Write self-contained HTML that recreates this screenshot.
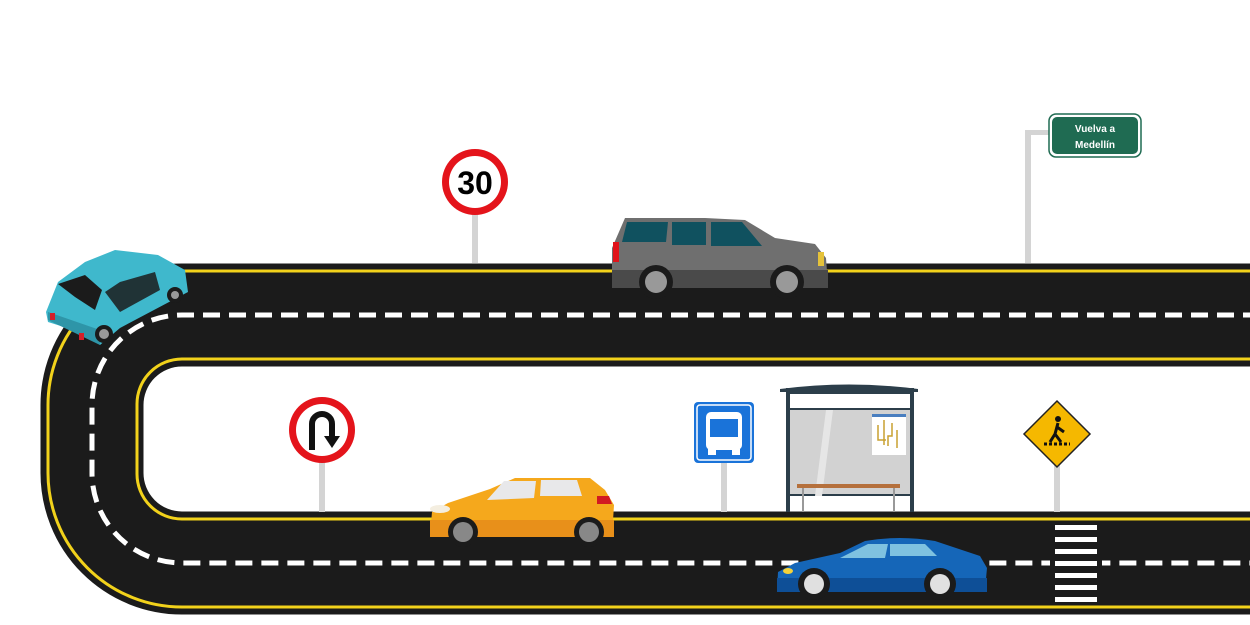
<!DOCTYPE html>
<html><head><meta charset="utf-8"><style>
html,body{margin:0;padding:0;background:#fff;}
svg{display:block}
</style></head><body>
<svg width="1250" height="625" viewBox="0 0 1250 625" xmlns="http://www.w3.org/2000/svg">
<!-- road -->
<path d="M1260,315 H182 A90,90 0 0 0 92,405 V473 A90,90 0 0 0 182,563 H1260" fill="none" stroke="#1b1b1b" stroke-width="103"/>
<path d="M1260,271 H182 A134,134 0 0 0 48,405 V473 A134,134 0 0 0 182,607 H1260" fill="none" stroke="#f2d21b" stroke-width="3"/>
<path d="M1260,359 H182 A45,45 0 0 0 137,404 V474 A45,45 0 0 0 182,519 H1260" fill="none" stroke="#f2d21b" stroke-width="3"/>
<path d="M1260,315 H182 A90,90 0 0 0 92,405 V473 A90,90 0 0 0 182,563 H1260" fill="none" stroke="#fff" stroke-width="5" stroke-dasharray="17 9"/>
<!-- crosswalk -->
<rect x="1050" y="522" width="52" height="82" fill="#1b1b1b"/>
<g fill="#fff">
<rect x="1055" y="525" width="42" height="5"/><rect x="1055" y="537" width="42" height="5"/>
<rect x="1055" y="549" width="42" height="5"/><rect x="1055" y="561" width="42" height="5"/>
<rect x="1055" y="573" width="42" height="5"/><rect x="1055" y="585" width="42" height="5"/>
<rect x="1055" y="597" width="42" height="5"/>
</g>
<!-- green sign -->
<rect x="1025" y="130" width="6" height="133" fill="#d4d4d4"/>
<rect x="1025" y="130" width="27" height="5" fill="#d4d4d4"/>
<rect x="1049" y="114" width="92" height="43" rx="7" fill="#fff" stroke="#1f6b52" stroke-width="1.5"/>
<rect x="1052" y="117" width="86" height="37" rx="5" fill="#1f6b52"/>
<text x="1095" y="132" font-family="Liberation Sans, sans-serif" font-size="10" font-weight="bold" fill="#fff" text-anchor="middle">Vuelva a</text>
<text x="1095" y="148" font-family="Liberation Sans, sans-serif" font-size="10" font-weight="bold" fill="#fff" text-anchor="middle">Medellín</text>
<!-- 30 sign -->
<rect x="472" y="205" width="6" height="58" fill="#d4d4d4"/>
<circle cx="475" cy="182" r="33" fill="#e4141b"/>
<circle cx="475" cy="182" r="26" fill="#fff"/>
<text x="475" y="194" font-family="Liberation Sans, sans-serif" font-size="32" font-weight="bold" fill="#000" text-anchor="middle">30</text>
<!-- U-turn sign -->
<rect x="319" y="455" width="6" height="57" fill="#d4d4d4"/>
<circle cx="322" cy="430" r="33" fill="#e4141b"/>
<circle cx="322" cy="430" r="26" fill="#fff"/>
<path d="M312,450 V424 A10,10 0 0 1 332,424 V437" fill="none" stroke="#111" stroke-width="6"/>
<polygon points="324,436 340,436 332,448" fill="#111"/>
<!-- bus sign -->
<rect x="721" y="460" width="6" height="52" fill="#d4d4d4"/>
<rect x="694" y="402" width="60" height="61" rx="4" fill="#1a73d9"/>
<rect x="697" y="405" width="54" height="55" rx="3" fill="none" stroke="#fff" stroke-width="1.5"/>
<rect x="706" y="412" width="36" height="38" rx="5" fill="#fff"/>
<rect x="710" y="419" width="28" height="18" fill="#1a73d9"/>
<rect x="708" y="449" width="8" height="6" fill="#fff"/><rect x="732" y="449" width="8" height="6" fill="#fff"/>
<!-- shelter -->
<rect x="786" y="388" width="128" height="6" fill="#2c3e4a"/>
<path d="M780,389 Q849,380 918,389 V392 H780Z" fill="#2c3e4a"/>
<rect x="786" y="392" width="4" height="120" fill="#2c3e4a"/><rect x="910" y="392" width="4" height="120" fill="#2c3e4a"/>
<rect x="790" y="408" width="120" height="86" fill="#d2d2d2"/>
<rect x="790" y="408" width="120" height="2" fill="#2c3e4a"/>
<rect x="790" y="494" width="120" height="2" fill="#2c3e4a"/>
<polygon points="815,496 826,410 833,410 822,496" fill="#e6e6e6"/>
<rect x="872" y="414" width="34" height="41" fill="#fff"/>
<rect x="872" y="414" width="34" height="3" fill="#4a7fc0"/>
<path d="M878,425 V440 H886 M884,420 V445 M892,423 V436 H888 V446 M897,430 V448" stroke="#c8a030" stroke-width="1.5" fill="none"/>
<rect x="797" y="484" width="103" height="4" fill="#b5703c"/>
<rect x="802" y="488" width="2" height="24" fill="#999"/><rect x="893" y="488" width="2" height="24" fill="#999"/>
<!-- pedestrian sign -->
<rect x="1054" y="460" width="6" height="52" fill="#d4d4d4"/>
<polygon points="1057,401 1090,434 1057,467 1024,434" fill="#f5b800" stroke="#222" stroke-width="1.5"/>
<circle cx="1058" cy="419" r="3" fill="#111"/>
<path d="M1058,423 L1055,434 L1050,442 M1055,434 L1061,442 M1057,427 L1064,432" stroke="#111" stroke-width="3" fill="none"/>
<path d="M1044,444 H1070" stroke="#111" stroke-width="3" stroke-dasharray="3 2"/>
<!-- grey SUV -->
<g>
<path d="M612,282 V248 L625,218 H705 L745,220 L775,238 L815,244 L826,258 L828,285 H612Z" fill="#6f6f6f"/>
<path d="M612,270 H828 V288 H612Z" fill="#4a4a4a"/>
<path d="M627,222 H668 L666,242 H622Z" fill="#10515f"/>
<path d="M672,222 H706 L706,245 H672Z" fill="#10515f"/>
<path d="M711,222 H742 L762,246 H711Z" fill="#10515f"/>
<rect x="613" y="242" width="6" height="20" fill="#e0141b"/>
<rect x="818" y="252" width="6" height="14" fill="#e5c23a"/>
<circle cx="656" cy="282" r="17" fill="#1b1b1b"/><circle cx="656" cy="282" r="11" fill="#999"/>
<circle cx="787" cy="282" r="17" fill="#1b1b1b"/><circle cx="787" cy="282" r="11" fill="#999"/>
</g>
<!-- yellow car -->
<g>
<path d="M430,535 L432,512 L448,503 L490,489 L515,478 H590 L605,490 L614,505 L612,537 H430Z" fill="#f5a81c"/>
<path d="M430,520 H614 V537 H430Z" fill="#e8901a"/>
<path d="M487,500 L504,481 H536 L534,498Z" fill="#e8e8ea"/>
<path d="M541,480 H577 L582,496 H540Z" fill="#e8e8ea"/>
<ellipse cx="440" cy="509" rx="10" ry="4" fill="#f4eee0"/>
<path d="M597,496 h12 l3,8 h-15z" fill="#d21a22"/>
<circle cx="463" cy="532" r="15" fill="#1b1b1b"/><circle cx="463" cy="532" r="10" fill="#888"/>
<circle cx="589" cy="532" r="15" fill="#1b1b1b"/><circle cx="589" cy="532" r="10" fill="#888"/>
</g>
<!-- blue car -->
<g>
<path d="M777,590 L778,572 L795,563 L840,553 L865,541 Q900,535 935,541 L980,556 L987,568 L985,590 Z" fill="#1566b8"/>
<path d="M777,578 H987 V592 H777Z" fill="#0e4f97"/>
<path d="M840,558 L868,544 H888 L885,558Z" fill="#7fc2e0"/>
<path d="M890,544 H925 L937,556 H890Z" fill="#7fc2e0"/>
<ellipse cx="788" cy="571" rx="5" ry="3" fill="#f4d23a"/>
<circle cx="814" cy="584" r="16" fill="#1b1b1b"/><circle cx="814" cy="584" r="10" fill="#e0e0e0"/>
<circle cx="940" cy="584" r="16" fill="#1b1b1b"/><circle cx="940" cy="584" r="10" fill="#e0e0e0"/>
</g>
<!-- teal car -->
<g>
<path d="M46,312 L58,282 L85,262 L115,250 L158,255 L185,270 L188,292 L120,328 L100,345 L80,332 L48,322Z" fill="#3fb8cc"/>
<path d="M58,284 L75,297 L95,310 L102,290 L85,275Z" fill="#1b1b1b"/>
<path d="M105,292 L120,282 L155,272 L160,290 L120,312Z" fill="#1b1b1b" opacity="0.85"/>
<path d="M48,320 L100,345 L100,330 L48,312Z" fill="#2e95a8"/>
<rect x="50" y="313" width="5" height="7" fill="#d41f2a"/><rect x="79" y="333" width="5" height="7" fill="#d41f2a"/>
<circle cx="104" cy="334" r="9" fill="#1b1b1b"/><circle cx="104" cy="334" r="5" fill="#999"/>
<circle cx="175" cy="295" r="8" fill="#1b1b1b"/><circle cx="175" cy="295" r="4" fill="#999"/>
</g>
</svg>
</body></html>
